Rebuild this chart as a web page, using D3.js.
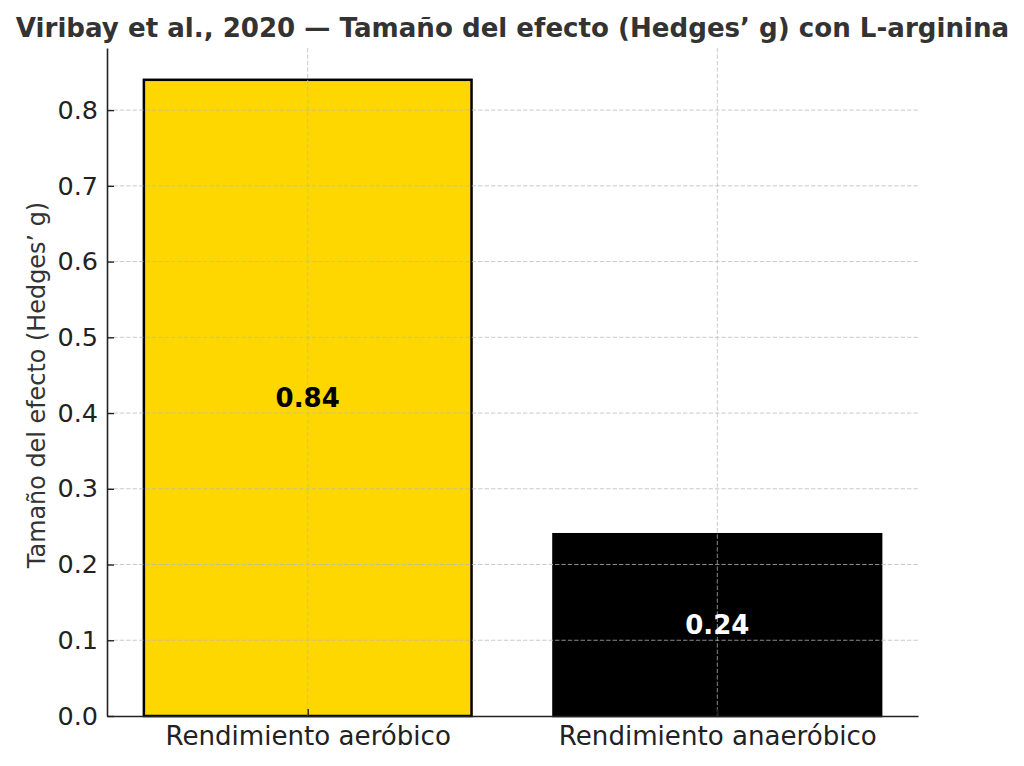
<!DOCTYPE html>
<html><head><meta charset="utf-8">
<script src="https://cdn.jsdelivr.net/npm/d3@7"></script>
<style>body{margin:0;background:#fff}text{font-family:"DejaVu Sans",sans-serif}</style>
</head><body>
<svg id="c" width="1024" height="766"></svg>
<script>
const categories = ["Rendimiento aeróbico", "Rendimiento anaeróbico"];
const values = [0.84, 0.24];
const barColors = ["#FFD700", "#000000"];
const labelColors = ["#000000", "#ffffff"];
const yTicks = [0.0, 0.1, 0.2, 0.3, 0.4, 0.5, 0.6, 0.7, 0.8];
const title = "Viribay et al., 2020 — Tamaño del efecto (Hedges’ g) con L-arginina";
const yLabel = "Tamaño del efecto (Hedges’ g)";

const svg = d3.select("#c");
const L = 107, R = 918, T = 48, B = 716;
const x = d3.scaleLinear().domain([-0.49, 1.49]).range([L, R]);
const y = d3.scaleLinear().domain([0, 0.882]).range([B, T]);
const bw = x(0.8) - x(0);

// bars
svg.selectAll("rect.bar").data(values).join("rect")
  .attr("x", (d, i) => x(i) - bw / 2)
  .attr("y", d => y(d))
  .attr("width", bw)
  .attr("height", d => y(0) - y(d))
  .attr("fill", (d, i) => barColors[i])
  .attr("stroke", "#000").attr("stroke-width", 2.5);

// grid (on top)
const grid = svg.append("g").attr("stroke", "#b8b8b8").attr("stroke-opacity", 0.75)
  .attr("stroke-width", 1).attr("stroke-dasharray", "4.4,2");
grid.selectAll("line.h").data(yTicks.slice(1)).join("line")
  .attr("x1", L).attr("x2", R).attr("y1", d => y(d)).attr("y2", d => y(d));
grid.selectAll("line.v").data(categories).join("line")
  .attr("x1", (d, i) => x(i)).attr("x2", (d, i) => x(i)).attr("y1", T).attr("y2", B);

// axes
const yAxis = d3.axisLeft(y).tickValues(yTicks).tickFormat(d3.format(".1f")).tickSizeInner(-7).tickSizeOuter(0).tickPadding(9);
const gy = svg.append("g").attr("transform", `translate(${L},0)`).call(yAxis);
gy.select(".domain").attr("stroke", "#222").attr("stroke-width", 1.6);
gy.selectAll(".tick line").attr("stroke", "#222").attr("stroke-width", 1.4);
gy.selectAll(".tick text").attr("font-size", 25.5).attr("fill", "#222").attr("font-family", "DejaVu Sans");

const xAxis = d3.axisBottom(x).tickValues([0, 1]).tickFormat(i => categories[i]).tickSizeInner(-7).tickSizeOuter(0).tickPadding(10);
const gx = svg.append("g").attr("transform", `translate(0,${B})`).call(xAxis);
gx.select(".domain").attr("stroke", "#222").attr("stroke-width", 1.6);
gx.selectAll(".tick line").attr("stroke", "#222").attr("stroke-width", 1.4);
gx.selectAll(".tick text").attr("font-size", 26.1).attr("fill", "#222").attr("font-family", "DejaVu Sans");

// value labels
svg.selectAll("text.val").data(values).join("text")
  .attr("x", (d, i) => x(i)).attr("y", d => y(d / 2))
  .attr("text-anchor", "middle").attr("dominant-baseline", "central")
  .attr("font-size", 26).attr("font-weight", "bold")
  .attr("fill", (d, i) => labelColors[i])
  .text(d => d.toFixed(2));

// title
svg.append("text").attr("x", (L + R) / 2).attr("y", 37).attr("text-anchor", "middle")
  .attr("font-size", 26.1).attr("font-weight", "bold").attr("fill", "#333").text(title);

// y label
svg.append("text").attr("transform", `translate(45,${385}) rotate(-90)`)
  .attr("text-anchor", "middle").attr("font-size", 23.9).attr("fill", "#333").text(yLabel);
</script>
</body></html>
